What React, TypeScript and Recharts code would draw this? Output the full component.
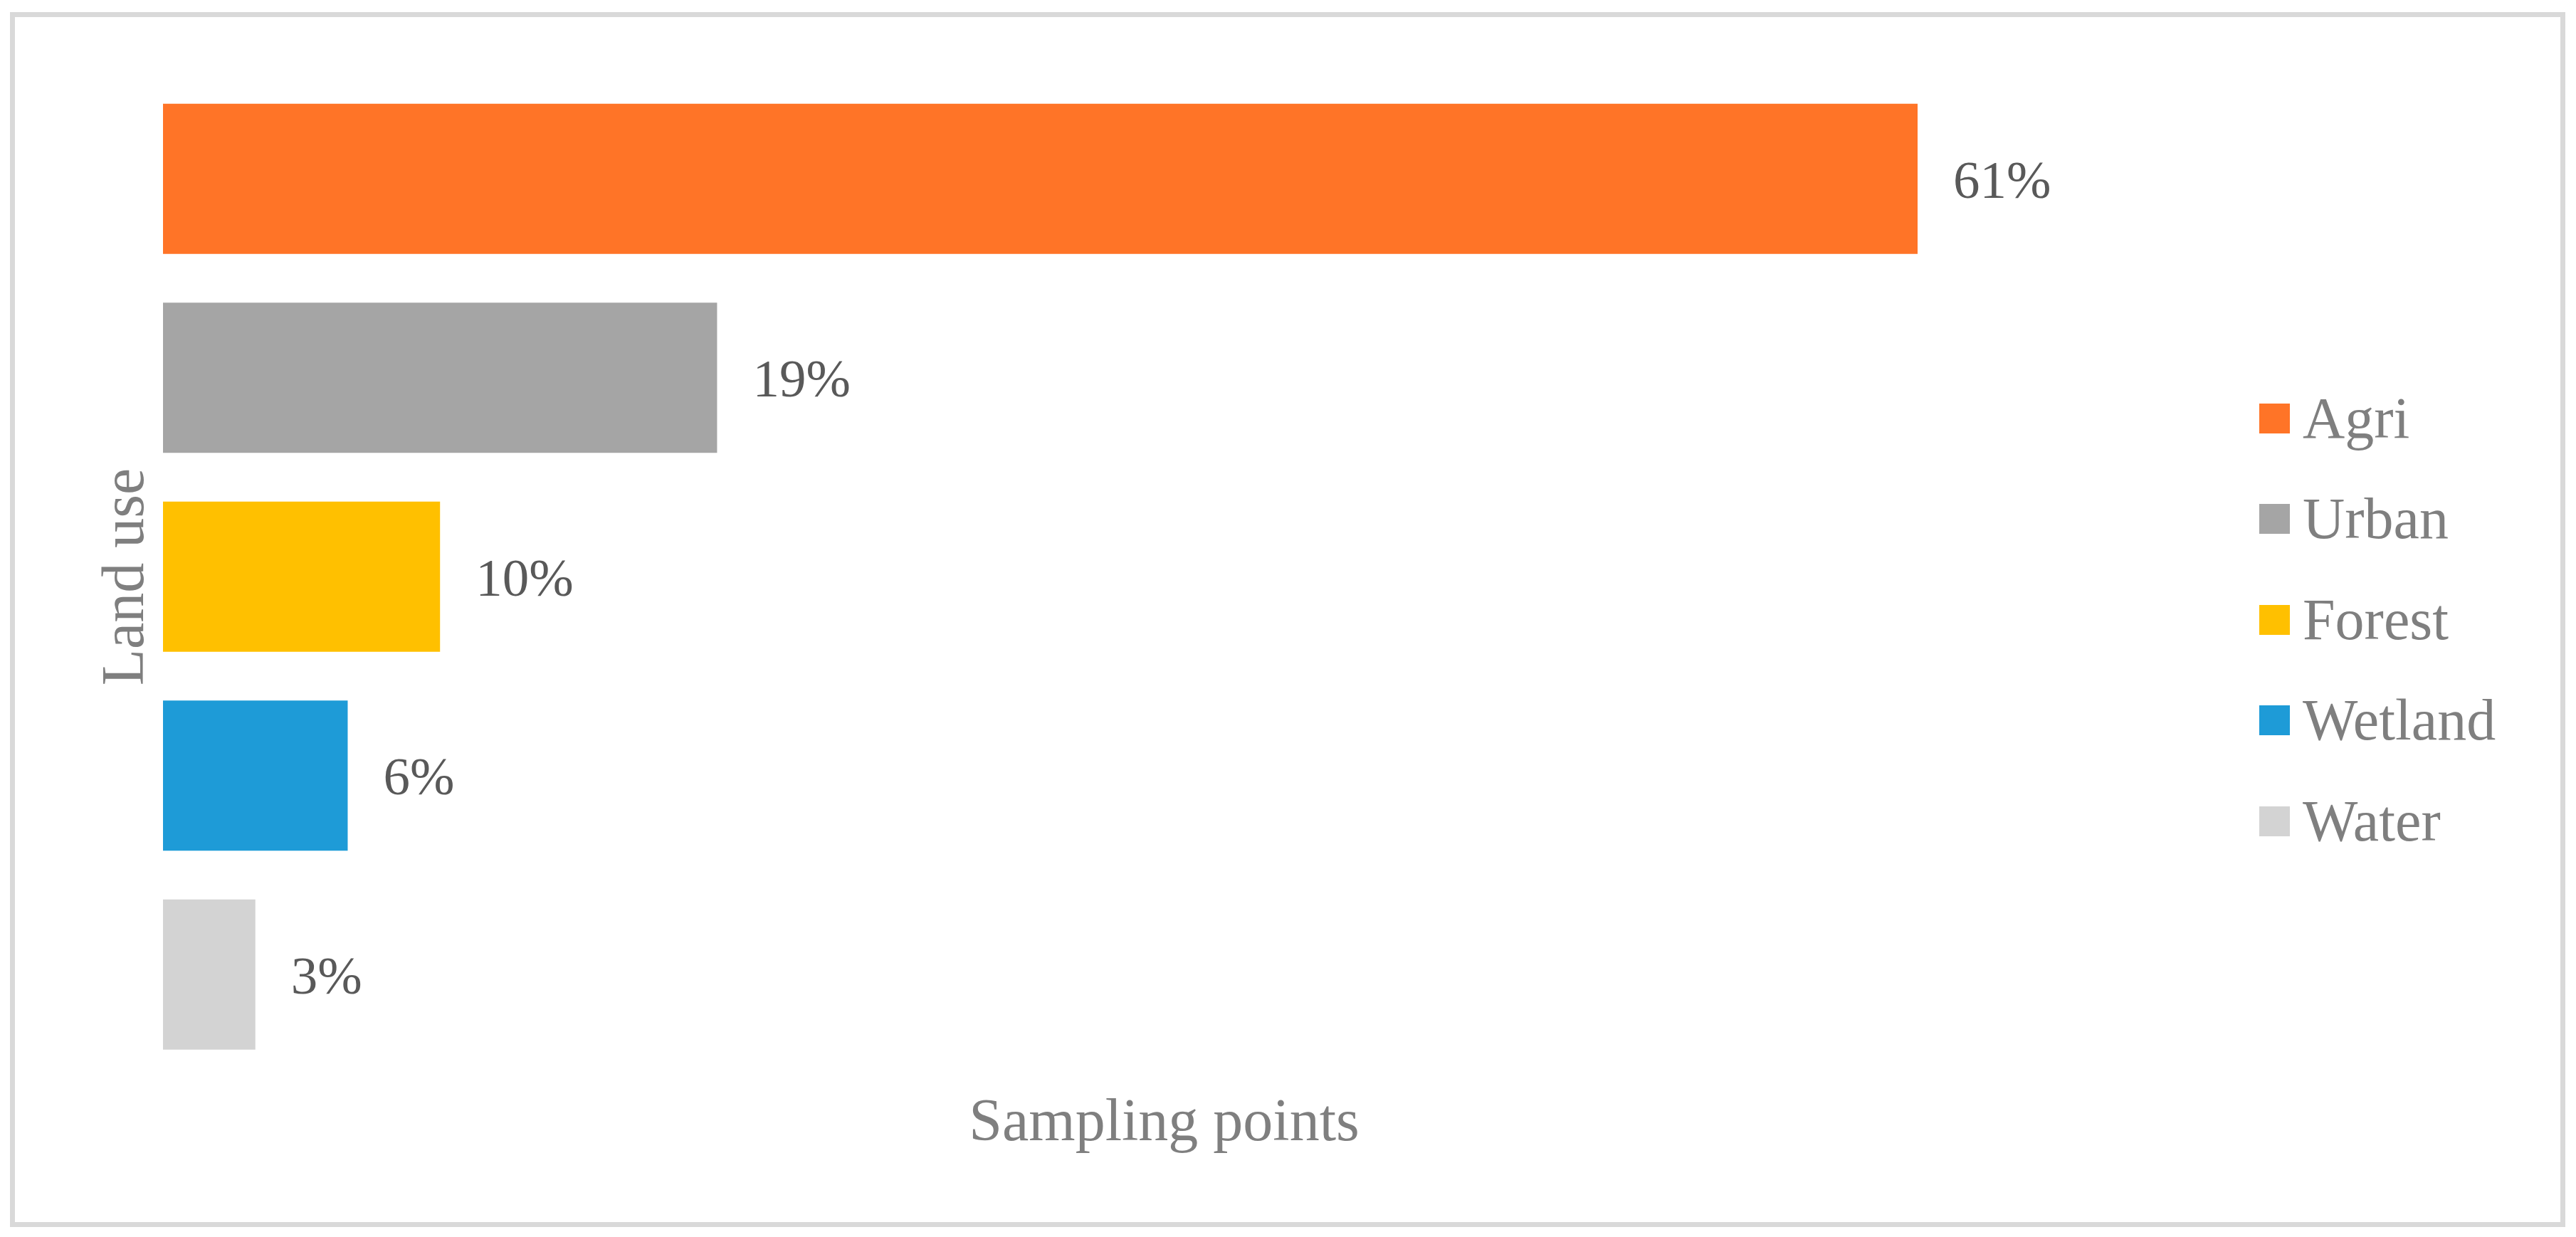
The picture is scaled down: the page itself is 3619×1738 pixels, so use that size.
import React from 'react';
import { BarChart, Bar, XAxis, YAxis, Cell, LabelList, Legend } from 'recharts';

const categories = ['Agri', 'Urban', 'Forest', 'Wetland', 'Water'];
const samplingPoints = [19, 6, 3, 2, 1];
const percentLabels = ['61%', '19%', '10%', '6%', '3%'];
const barColors = ['#FF7427', '#A5A5A5', '#FFC000', '#1E9BD7', '#D3D3D3'];

const data = categories.map((name, i) => ({
  name,
  value: samplingPoints[i],
  label: percentLabels[i],
}));

const FONT = '"Liberation Serif", "Times New Roman", Times, serif';

const LegendContent = () => (
  <div style={{ fontFamily: FONT }}>
    {categories.map((c, i) => (
      <div
        key={c}
        style={{ height: 141.5, display: 'flex', alignItems: 'center' }}
      >
        <div style={{ width: 43, height: 42, background: barColors[i], flex: 'none' }} />
        <span
          style={{
            marginLeft: 18,
            fontSize: 82,
            lineHeight: 1,
            color: '#7F7F7F',
            whiteSpace: 'nowrap',
          }}
        >
          {c}
        </span>
      </div>
    ))}
  </div>
);

export default function App() {
  return (
    <div
      style={{
        position: 'absolute',
        left: 0,
        top: 0,
        width: 3619,
        height: 1738,
        background: '#FFFFFF',
        overflow: 'hidden',
      }}
    >
      <div
        style={{
          position: 'absolute',
          left: 14,
          top: 17,
          width: 3590,
          height: 1707,
          boxSizing: 'border-box',
          border: '7px solid #D9D9D9',
        }}
      />
      <div style={{ position: 'absolute', left: 0, top: 0 }}>
        <BarChart
          width={3619}
          height={1738}
          data={data}
          layout="vertical"
          margin={{ top: 111.75, right: 925, bottom: 103.25, left: 113 }}
        >
          <XAxis
            type="number"
            domain={[0, 19]}
            allowDataOverflow
            tick={false}
            axisLine={false}
            tickLine={false}
            height={125.5}
            label={{
              value: 'Sampling points',
              position: 'center',
              dx: 174,
              fill: '#7F7F7F',
              fontSize: 84,
              fontFamily: FONT,
            }}
          />
          <YAxis
            type="category"
            dataKey="name"
            tick={false}
            axisLine={false}
            tickLine={false}
            width={116}
            label={{
              value: 'Land use',
              angle: -90,
              position: 'center',
              fill: '#7F7F7F',
              fontSize: 84,
              fontFamily: FONT,
            }}
          />
          <Legend
            layout="vertical"
            align="center"
            verticalAlign="middle"
            content={<LegendContent />}
            wrapperStyle={{ left: 3174, top: 517, width: 420 }}
          />
          <Bar dataKey="value" barSize={211} isAnimationActive={false}>
            {data.map((d, i) => (
              <Cell key={d.name} fill={barColors[i]} />
            ))}
            <LabelList
              dataKey="label"
              position="right"
              offset={50}
              fill="#595959"
              fontSize={75}
              fontFamily={FONT}
            />
          </Bar>
        </BarChart>
      </div>
    </div>
  );
}
